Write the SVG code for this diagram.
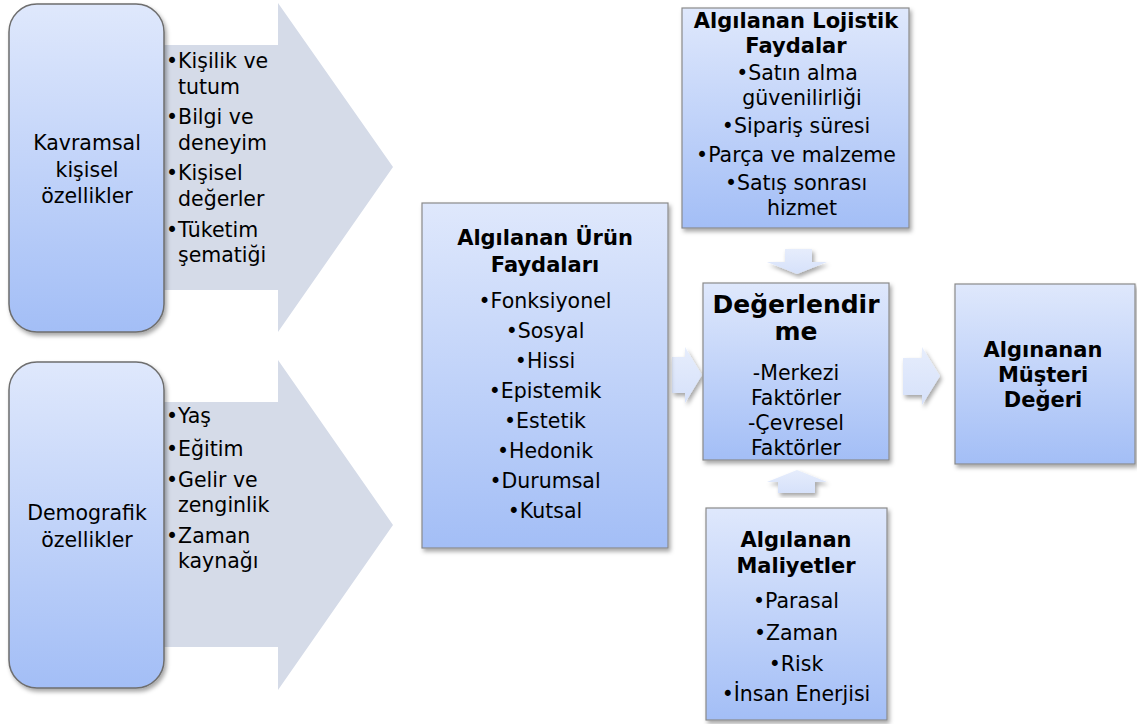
<svg xmlns="http://www.w3.org/2000/svg" width="1137" height="724" viewBox="0 0 1137 724">
  <defs>
    <linearGradient id="boxFill" x1="0" y1="0" x2="0" y2="1">
      <stop offset="0" stop-color="#dfe8fc"/>
      <stop offset="1" stop-color="#a3bef6"/>
    </linearGradient>
    <linearGradient id="arrowFill" x1="0" y1="0" x2="0" y2="1">
      <stop offset="0" stop-color="#e6edfc"/>
      <stop offset="1" stop-color="#d6e1fa"/>
    </linearGradient>
    <filter id="shadow" x="-10%" y="-10%" width="130%" height="130%">
      <feDropShadow dx="2" dy="3" stdDeviation="2" flood-color="#000" flood-opacity="0.35"/>
    </filter>
  </defs>
  <style>
    text { font-family: "DejaVu Sans", Verdana, sans-serif; font-size: 20.5px; fill: #000; }
    .c { text-anchor: middle; }
    .b { font-weight: bold; font-size: 21px; }
    .big { font-size: 25px; font-weight: bold; }
    .box { fill: url(#boxFill); stroke: #8a8a8a; stroke-width: 1.2; filter: url(#shadow); }
    .pill { fill: url(#boxFill); stroke: #6e6e6e; stroke-width: 1.5; filter: url(#shadow); }
    .bigArrow { fill: #d5dbe8; }
    .smallArrow { fill: url(#arrowFill); filter: url(#shadow); }
  </style>

  <rect width="1137" height="724" fill="#fff"/>

  <!-- connectors: large block arrows and small flow arrows -->
  <g id="connectors">
    <path class="bigArrow" d="M150,45 H278 V3 L393,167 L278,332 V290 H150 Z"/>
    <path class="bigArrow" d="M150,402 H278 V360 L393,525 L278,690 V647 H150 Z"/>
    <path class="smallArrow" d="M672,357 H685 V347 L702,375 L685,403 V393 H672 Z"/>
    <path class="smallArrow" d="M903,358 H922 V347 L940,376 L922,405 V395 H903 Z"/>
    <path class="smallArrow" d="M785,249 H812 V262 H827 L797,274 L767,262 H785 Z"/>
    <path class="smallArrow" d="M778,493 H815 V482 H827 L797,470 L767,482 H778 Z"/>
  </g>

  <!-- bullet lists carried on the large arrows -->
  <g id="kavramsal-items">
    <text x="166" y="68">•Kişilik ve</text>
    <text x="178" y="94">tutum</text>
    <text x="166" y="124">•Bilgi ve</text>
    <text x="178" y="150">deneyim</text>
    <text x="166" y="180">•Kişisel</text>
    <text x="178" y="206">değerler</text>
    <text x="166" y="237">•Tüketim</text>
    <text x="178" y="262">şematiği</text>
  </g>
  <g id="demografik-items">
    <text x="166" y="423">•Yaş</text>
    <text x="166" y="456">•Eğitim</text>
    <text x="166" y="487">•Gelir ve</text>
    <text x="178" y="512">zenginlik</text>
    <text x="166" y="543">•Zaman</text>
    <text x="178" y="568">kaynağı</text>
  </g>

  <g id="kavramsal">
    <rect class="pill" x="9" y="4" width="155" height="328" rx="28"/>
    <text class="c" x="87" y="150">Kavramsal</text>
    <text class="c" x="87" y="177">kişisel</text>
    <text class="c" x="87" y="203">özellikler</text>
  </g>

  <g id="demografik">
    <rect class="pill" x="9" y="362" width="155" height="326" rx="28"/>
    <text class="c" x="87" y="520">Demografik</text>
    <text class="c" x="87" y="547">özellikler</text>
  </g>

  <g id="urun-faydalari">
    <rect class="box" x="422" y="203" width="246" height="345"/>
    <text class="c b" x="545" y="245">Algılanan Ürün</text>
    <text class="c b" x="545" y="272">Faydaları</text>
    <text class="c" x="545" y="308">•Fonksiyonel</text>
    <text class="c" x="545" y="338">•Sosyal</text>
    <text class="c" x="545" y="368">•Hissi</text>
    <text class="c" x="545" y="398">•Epistemik</text>
    <text class="c" x="545" y="428">•Estetik</text>
    <text class="c" x="545" y="458">•Hedonik</text>
    <text class="c" x="545" y="488">•Durumsal</text>
    <text class="c" x="545" y="518">•Kutsal</text>
  </g>

  <g id="lojistik-faydalar">
    <rect class="box" x="682" y="8" width="227" height="220"/>
    <text class="c b" x="796" y="28">Algılanan Lojistik</text>
    <text class="c b" x="796" y="53">Faydalar</text>
    <text class="c" x="797" y="80">•Satın alma</text>
    <text class="c" x="802" y="105">güvenilirliği</text>
    <text class="c" x="796" y="133">•Sipariş süresi</text>
    <text class="c" x="796" y="162">•Parça ve malzeme</text>
    <text class="c" x="796" y="190">•Satış sonrası</text>
    <text class="c" x="802" y="215">hizmet</text>
  </g>

  <g id="degerlendirme">
    <rect class="box" x="703" y="283" width="186" height="177"/>
    <text class="c big" x="796" y="313">Değerlendir</text>
    <text class="c big" x="796" y="340">me</text>
    <text class="c" x="796" y="380">-Merkezi</text>
    <text class="c" x="796" y="405">Faktörler</text>
    <text class="c" x="796" y="430">-Çevresel</text>
    <text class="c" x="796" y="455">Faktörler</text>
  </g>

  <g id="musteri-degeri">
    <rect class="box" x="955" y="284" width="180" height="180"/>
    <text class="c b" x="1043" y="357">Algınanan</text>
    <text class="c b" x="1043" y="382">Müşteri</text>
    <text class="c b" x="1043" y="407">Değeri</text>
  </g>

  <g id="maliyetler">
    <rect class="box" x="706" y="508" width="181" height="212"/>
    <text class="c b" x="796" y="547">Algılanan</text>
    <text class="c b" x="796" y="573">Maliyetler</text>
    <text class="c" x="796" y="608">•Parasal</text>
    <text class="c" x="796" y="640">•Zaman</text>
    <text class="c" x="796" y="671">•Risk</text>
    <text class="c" x="796" y="701">•İnsan Enerjisi</text>
  </g>
</svg>
